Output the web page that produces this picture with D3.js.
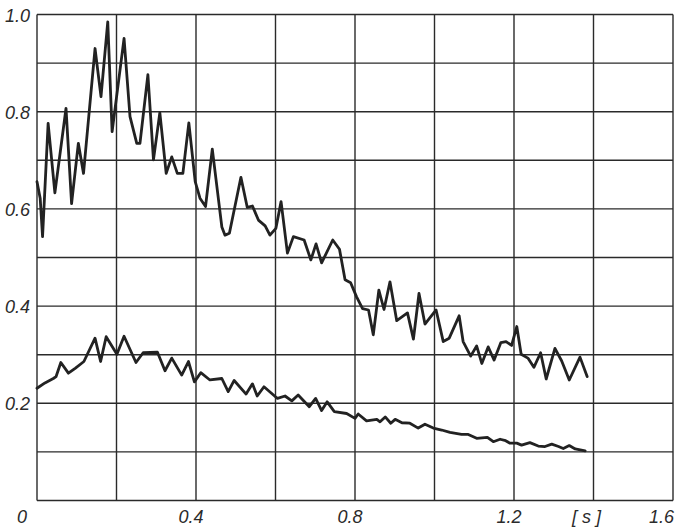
<!DOCTYPE html>
<html>
<head>
<meta charset="utf-8">
<script src="https://cdn.jsdelivr.net/npm/d3@7"></script>
<style>
  html, body { margin: 0; padding: 0; background: #fff; }
  svg { display: block; }
  .lbl { font-family: "Liberation Sans Narrow", "Liberation Sans", "DejaVu Sans", sans-serif; font-style: italic; font-size: 18px; fill: #2b2b2b; }
</style>
</head>
<body>
<script>
// Time axis (s) and amplitude axis
const xTicks = [0, 0.2, 0.4, 0.6, 0.8, 1.0, 1.2, 1.4, 1.6];
const yTicks = [0, 0.1, 0.2, 0.3, 0.4, 0.5, 0.6, 0.7, 0.8, 0.9, 1.0];
const xLabels = ["0", "0.4", "0.8", "1.2", "1.6"];
const xLabelValues = [0, 0.4, 0.8, 1.2, 1.6];
const yLabels = ["0.2", "0.4", "0.6", "0.8", "1.0"];
const yLabelValues = [0.2, 0.4, 0.6, 0.8, 1.0];
const unitLabel = "[ s ]";

// Upper trace: time (s)
const upperT = [0.000, 0.008, 0.014, 0.028, 0.045, 0.073, 0.087, 0.104, 0.117, 0.146,
  0.161, 0.178, 0.189, 0.219, 0.234, 0.251, 0.259, 0.279, 0.293, 0.309,
  0.325, 0.339, 0.353, 0.367, 0.382, 0.398, 0.410, 0.424, 0.441, 0.465,
  0.473, 0.484, 0.513, 0.529, 0.542, 0.557, 0.574, 0.586, 0.601, 0.614,
  0.630, 0.645, 0.672, 0.689, 0.702, 0.716, 0.744, 0.761, 0.775, 0.789,
  0.804, 0.819, 0.834, 0.846, 0.860, 0.873, 0.888, 0.905, 0.932, 0.947,
  0.961, 0.976, 1.004, 1.022, 1.037, 1.062, 1.072, 1.091, 1.106, 1.119,
  1.135, 1.150, 1.167, 1.180, 1.194, 1.207, 1.218, 1.235, 1.250, 1.267,
  1.281, 1.303, 1.320, 1.339, 1.366, 1.384];
// Upper trace: amplitude
const upperV = [0.656, 0.622, 0.543, 0.776, 0.633, 0.807, 0.611, 0.735, 0.673, 0.930,
  0.831, 0.985, 0.759, 0.951, 0.790, 0.735, 0.735, 0.876, 0.701, 0.798,
  0.673, 0.707, 0.673, 0.673, 0.777, 0.656, 0.622, 0.605, 0.723, 0.563,
  0.546, 0.550, 0.665, 0.603, 0.606, 0.577, 0.565, 0.546, 0.560, 0.615,
  0.509, 0.543, 0.536, 0.495, 0.528, 0.489, 0.536, 0.517, 0.454, 0.448,
  0.419, 0.395, 0.392, 0.341, 0.433, 0.393, 0.450, 0.370, 0.386, 0.332,
  0.426, 0.363, 0.392, 0.327, 0.334, 0.380, 0.327, 0.297, 0.318, 0.282,
  0.316, 0.289, 0.325, 0.327, 0.319, 0.358, 0.301, 0.293, 0.274, 0.304,
  0.250, 0.313, 0.287, 0.248, 0.295, 0.255];

// Lower trace: time (s)
const lowerT = [0.000, 0.020, 0.041, 0.048, 0.060, 0.079, 0.096, 0.118, 0.146, 0.160,
  0.174, 0.201, 0.219, 0.249, 0.267, 0.303, 0.322, 0.339, 0.364, 0.381,
  0.396, 0.412, 0.435, 0.465, 0.481, 0.496, 0.526, 0.542, 0.554, 0.571,
  0.605, 0.624, 0.641, 0.657, 0.685, 0.701, 0.716, 0.730, 0.748, 0.779,
  0.800, 0.808, 0.829, 0.855, 0.863, 0.876, 0.890, 0.901, 0.918, 0.938,
  0.959, 0.976, 0.997, 1.018, 1.039, 1.068, 1.085, 1.106, 1.133, 1.148,
  1.165, 1.179, 1.190, 1.207, 1.219, 1.240, 1.261, 1.278, 1.295, 1.312,
  1.324, 1.339, 1.354, 1.379];
// Lower trace: amplitude
const lowerV = [0.231, 0.242, 0.251, 0.255, 0.284, 0.262, 0.272, 0.286, 0.334, 0.286,
  0.337, 0.301, 0.338, 0.284, 0.304, 0.305, 0.267, 0.293, 0.258, 0.286,
  0.244, 0.263, 0.248, 0.251, 0.224, 0.247, 0.219, 0.240, 0.215, 0.234,
  0.210, 0.215, 0.205, 0.217, 0.193, 0.210, 0.185, 0.203, 0.183, 0.179,
  0.169, 0.178, 0.164, 0.167, 0.162, 0.172, 0.159, 0.167, 0.160, 0.159,
  0.149, 0.157, 0.149, 0.145, 0.140, 0.136, 0.136, 0.128, 0.130, 0.121,
  0.126, 0.123, 0.118, 0.118, 0.114, 0.119, 0.112, 0.111, 0.116, 0.111,
  0.107, 0.113, 0.106, 0.102];

const W = 675, H = 527;
const svg = d3.select("body").append("svg").attr("width", W).attr("height", H);

const x = d3.scaleLinear().domain([0, 1.6]).range([37, 673]);
const y = d3.scaleLinear().domain([0, 1.0]).range([500.5, 14.5]);

// Grid
const grid = svg.append("g").attr("stroke", "#2a2a2a").attr("stroke-width", 1.4).attr("fill", "none");
grid.selectAll("line.h").data(yTicks).join("line")
  .attr("class", "h")
  .attr("x1", x(0)).attr("x2", x(1.6))
  .attr("y1", d => y(d)).attr("y2", d => y(d));
grid.selectAll("line.v").data(xTicks).join("line")
  .attr("class", "v")
  .attr("y1", y(0)).attr("y2", y(1.0))
  .attr("x1", d => x(d)).attr("x2", d => x(d));

// Traces
const line = d3.line().x(d => x(d[0])).y(d => y(d[1])).curve(d3.curveLinear);
const traces = [d3.zip(upperT, upperV), d3.zip(lowerT, lowerV)];
svg.append("g").selectAll("path").data(traces).join("path")
  .attr("d", line)
  .attr("fill", "none")
  .attr("stroke", "#222")
  .attr("stroke-width", 2.8)
  .attr("stroke-linejoin", "round")
  .attr("stroke-linecap", "round");

// Axis labels
svg.append("g").selectAll("text").data(yLabelValues).join("text")
  .attr("class", "lbl")
  .attr("x", 30)
  .attr("y", d => y(d) + 7)
  .attr("text-anchor", "end")
  .text((d, i) => yLabels[i]);

const last = xLabelValues.length - 1;
svg.append("g").selectAll("text").data(xLabelValues).join("text")
  .attr("class", "lbl")
  .attr("x", (d, i) => i === 0 ? x(d) - 15 : (i === last ? W - 1 : x(d) - 5))
  .attr("y", 523)
  .attr("text-anchor", (d, i) => i === last ? "end" : "middle")
  .text((d, i) => xLabels[i]);

svg.append("text")
  .attr("class", "lbl")
  .attr("x", x(1.4) - 7)
  .attr("y", 523)
  .attr("text-anchor", "middle")
  .text(unitLabel);
</script>
</body>
</html>
